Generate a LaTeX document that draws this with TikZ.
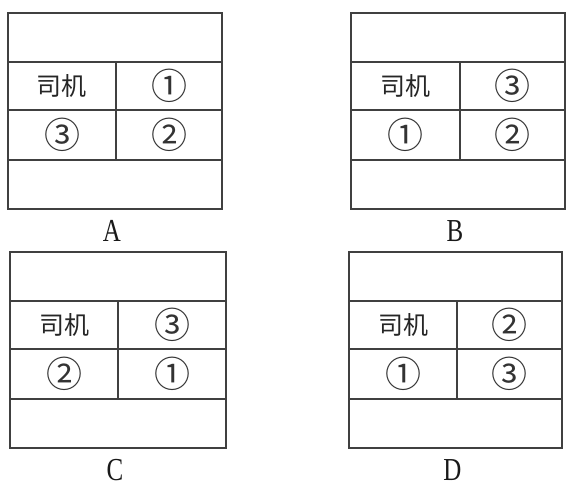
\documentclass[tikz,border=0pt]{standalone}
\usepackage{fontspec}
\newfontfamily\cjk{Noto Sans CJK SC}
\setmainfont{Liberation Serif}
\tikzset{
  grid/.style={draw=black!75, line width=1.6pt},
  cell/.style={inner sep=0pt, text=black!85, font=\cjk\fontsize{25}{25}\selectfont},
  num/.style={inner sep=0pt, text=black!80, font=\cjk\fontsize{36}{36}\selectfont},
  lab/.style={inner sep=0pt, text=black!90, font=\fontsize{32}{32}\selectfont}
}
% #1 left, #2 right, #3 divider, #4 top, #5 top-right, #6 bottom-left, #7 bottom-right, #8 label, #9 name
\newcommand\panelbox[9]{%
  \draw[grid] (#1,#4) rectangle (#2,#4+196);
  \draw[grid] (#1,#4+49) -- (#2,#4+49);
  \draw[grid] (#1,#4+97) -- (#2,#4+97);
  \draw[grid] (#1,#4+147) -- (#2,#4+147);
  \draw[grid] (#3,#4+49) -- (#3,#4+147);
  \node[cell] (#9d) at ({(#1+#3)/2},#4+73) {司机};
  \node[num] (#9a) at ({(#3+#2)/2},#4+73) {#5};
  \node[num] (#9b) at ({(#1+#3)/2},#4+122) {#6};
  \node[num] (#9c) at ({(#3+#2)/2},#4+122) {#7};
  \node[lab] (#9l) at ({(#1+#2)/2-3},#4+218) {\scalebox{0.78}[1]{#8}};
}
\begin{document}
\begin{tikzpicture}[x=1pt,y=-1pt]
\useasboundingbox (0,0) rectangle (566,489);
\fill[white] (0,0) rectangle (566,489);
\panelbox{8}{222}{116}{13}{①}{③}{②}{A}{pA}
\panelbox{351}{565}{460}{13}{③}{①}{②}{B}{pB}
\panelbox{10}{226}{118}{252}{③}{②}{①}{C}{pC}
\panelbox{349}{562}{457}{252}{②}{①}{③}{D}{pD}
\end{tikzpicture}
\end{document}
